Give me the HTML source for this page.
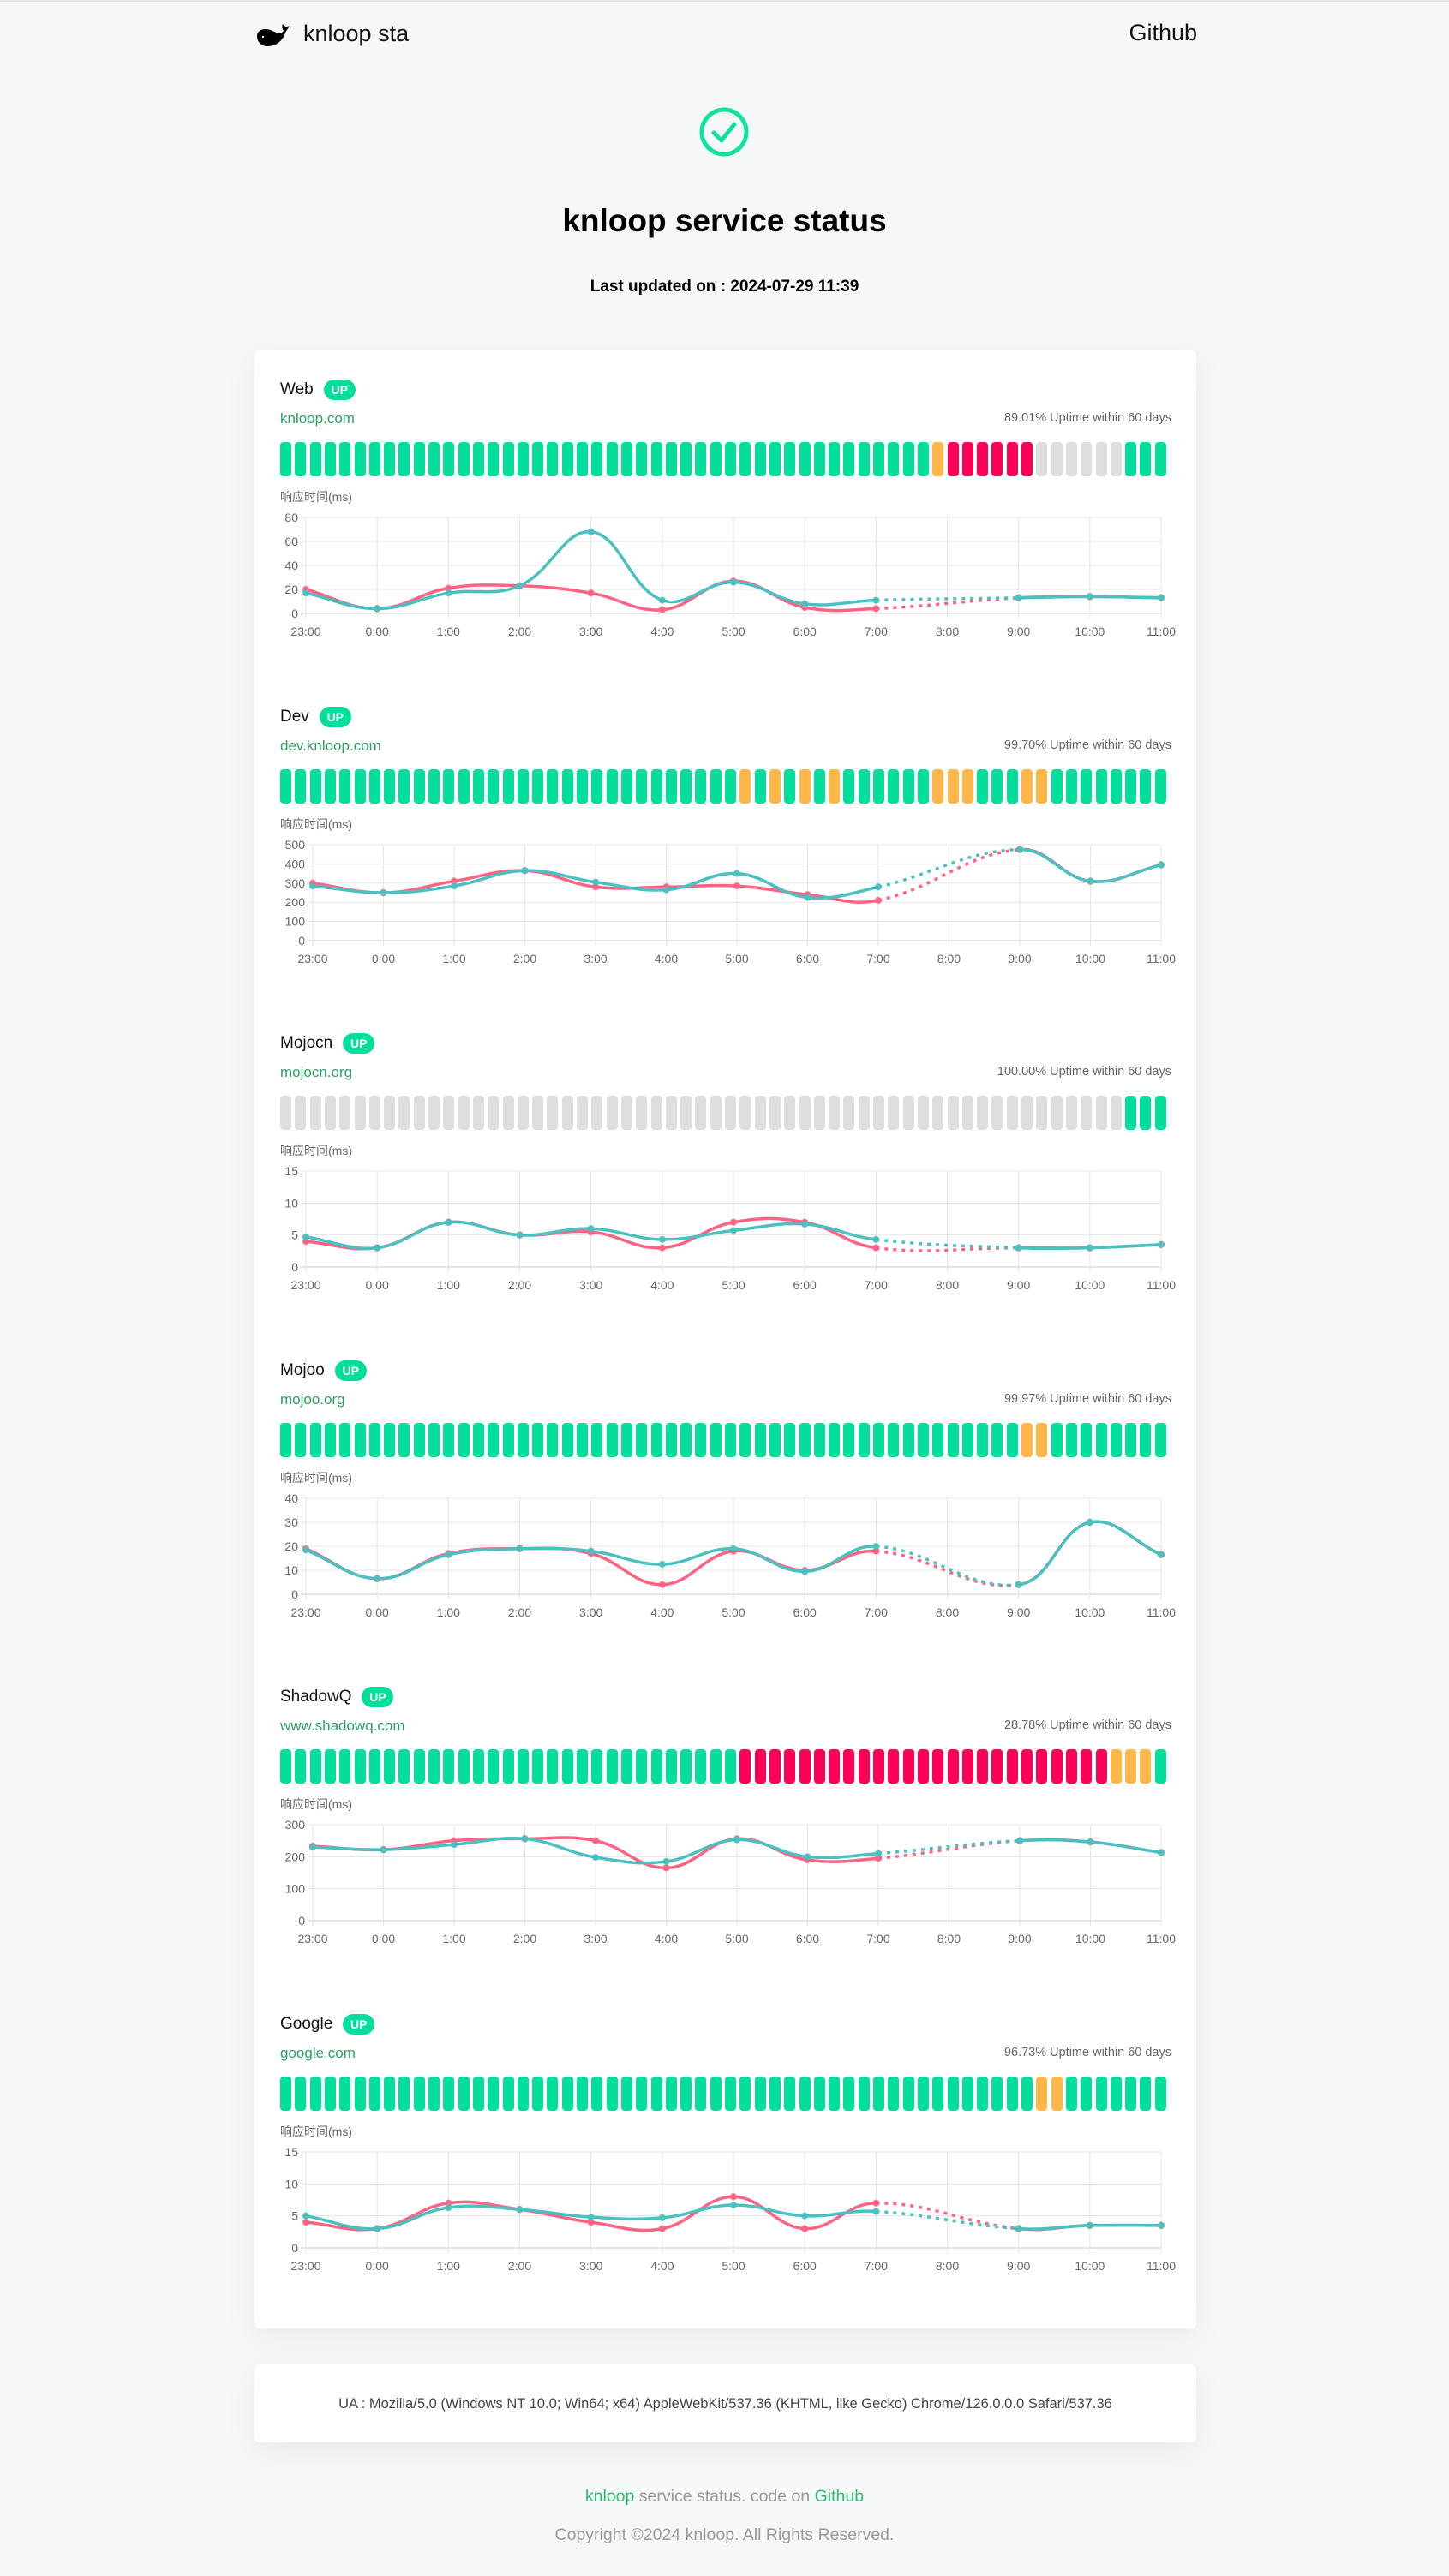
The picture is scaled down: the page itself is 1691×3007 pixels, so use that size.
<!DOCTYPE html>
<html><head><meta charset="utf-8">
<style>
body{margin:0;width:1691px;height:3007px;background:#f6f7f9;font-family:"Liberation Sans","Noto Sans CJK SC",sans-serif;position:relative;overflow:hidden;border-top:2px solid #e3e5e7;box-sizing:border-box}
.a{position:absolute;white-space:nowrap}
.card{position:absolute;background:#fff;border-radius:6px;box-shadow:0 10px 40px rgba(0,0,0,0.06)}
.bar{position:absolute;width:13px;height:40px;border-radius:4px}
</style></head>
<body>
<svg class="a" style="left:298px;top:26px" width="42" height="28" viewBox="0 0 42 28"><path d="M2 14 C2 6 12 4 20 8 C26 11 30 12 33 8 C31 5 31 2 32 0 C34 3 36 4 40 2 C38 6 36 8 35 10 C32 20 24 26 14 26 C7 26 2 21 2 14Z" fill="#000"/><circle cx="9" cy="15" r="1.2" fill="#fff"/></svg>
<div class="a" style="left:354px;top:22px;font-size:27px;color:#111">knloop sta</div>
<div class="a" style="right:294px;top:21px;font-size:27px;color:#111;font-weight:500">Github</div>
<svg class="a" style="left:815px;top:122px" width="60" height="60"><circle cx="30" cy="30" r="26" fill="none" stroke="#0ee39e" stroke-width="5"/><path d="M18 31 L27 40 L42 21" fill="none" stroke="#0ee39e" stroke-width="5" stroke-linecap="round" stroke-linejoin="round"/></svg>
<div class="a" style="left:0;width:1691px;text-align:center;top:235px;font-size:37px;font-weight:bold;color:#000">knloop service status</div>
<div class="a" style="left:0;width:1691px;text-align:center;top:322px;font-size:19px;font-weight:bold;color:#000">Last updated on : 2024-07-29 11:39</div>
<div class="card" style="left:297px;top:406px;width:1099px;height:2310px"></div>
<div class="card" style="left:297px;top:2758px;width:1099px;height:91px"></div>
<div class="a" style="left:297px;width:1099px;text-align:center;top:2795px;font-size:16.5px;color:#444">UA : Mozilla/5.0 (Windows NT 10.0; Win64; x64) AppleWebKit/537.36 (KHTML, like Gecko) Chrome/126.0.0.0 Safari/537.36</div>
<div class="a" style="left:0;width:1691px;text-align:center;top:2901px;font-size:19.5px;color:#999"><span style="color:#2ebd6e">knloop</span> service status. code on <span style="color:#2ebd6e">Github</span></div>
<div class="a" style="left:0;width:1691px;text-align:center;top:2946px;font-size:19.5px;color:#999">Copyright ©2024 knloop. All Rights Reserved.</div>
<div id="root"></div>
<script>
const labels=["23:00","0:00","1:00","2:00","3:00","4:00","5:00","6:00","7:00","8:00","9:00","10:00","11:00"];
const names=["Web","Dev","Mojocn","Mojoo","ShadowQ","Google"];
const urls=["knloop.com","dev.knloop.com","mojocn.org","mojoo.org","www.shadowq.com","google.com"];
const uptimes=["89.01%","99.70%","100.00%","99.97%","28.78%","96.73%"];
const yMax=[80,500,15,40,300,15];
const yStep=[20,100,5,10,100,5];
const redSeries=[
[20,4,21,23,17,3,27,5,4,null,13,14,13],
[300,250,310,365,280,280,285,240,210,null,475,310,395],
[4,3,7,5,5.5,3,7,7,3,null,3,3,3.5],
[19,6.5,17,19,17,4,18,10,18,null,4,30,16.5],
[233,222,250,256,250,165,256,190,195,null,250,246,213],
[4,3,7,6,4,3,8,3,7,null,3,3.5,3.5]];
const tealSeries=[
[17,4,17,23,68,11,26,8,11,null,13,14,13],
[285,250,285,365,305,265,350,225,280,null,475,310,395],
[4.7,3,7,5,6,4.3,5.7,6.7,4.3,null,3,3,3.5],
[18.5,6.5,16.5,19,18,12.5,19,9.5,20,null,4,30,16.5],
[230,222,238,256,198,185,253,200,210,null,250,246,213],
[5,3,6.3,6,4.8,4.7,6.7,5,5.7,null,3,3.5,3.5]];
// bar statuses: g=up, o=degraded, r=down, n=no data
const barStatus=[
"g".repeat(44)+"o"+"r".repeat(6)+"n".repeat(6)+"ggg",
(()=>{let a="g".repeat(60).split("");[31,33,35,37,44,45,46,50,51].forEach(i=>a[i]="o");return a.join("")})(),
"n".repeat(57)+"ggg",
"g".repeat(50)+"oo"+"g".repeat(8),
"g".repeat(31)+"r".repeat(25)+"ooo"+"g",
"g".repeat(51)+"oo"+"g".repeat(7)];
const colors={g:"#03de9c",o:"#ffb74a",r:"#ff0059",n:"#dedede"};
const root=document.getElementById('root');
function mk(tag,cls,style,txt){const e=document.createElement(tag);if(cls)e.className=cls;e.setAttribute('style',style);if(txt!==undefined)e.textContent=txt;root.appendChild(e);return e;}
const NS="http://www.w3.org/2000/svg";
function sv(p,tag,at){const e=document.createElementNS(NS,tag);for(const k in at)e.setAttribute(k,at[k]);p.appendChild(e);return e;}
function spline(pts){const t=0.4,cps=[];for(let i=0;i<pts.length;i++){const p=pts[Math.max(0,i-1)],c=pts[i],n=pts[Math.min(pts.length-1,i+1)];const d01=Math.hypot(c.x-p.x,c.y-p.y),d12=Math.hypot(n.x-c.x,n.y-c.y);let fa=d01/(d01+d12)||0,fb=d12/(d01+d12)||0;fa*=t;fb*=t;cps.push({px:c.x-fa*(n.x-p.x),py:c.y-fa*(n.y-p.y),nx:c.x+fb*(n.x-p.x),ny:c.y+fb*(n.y-p.y)});}return cps;}
names.forEach((nm,s)=>{
  const T=454+381.5*s;
  const row=mk('div','a',`left:327px;top:${T-13}px;display:flex;align-items:center;gap:12px`);
  
  
  const t1=document.createElement('span');
  t1.textContent=nm;
  t1.setAttribute('style','font-size:19px;color:#111;font-weight:500');
  
  
  row.appendChild(t1);
  const b=document.createElement('span');
  b.textContent='UP';
  b.setAttribute('style','display:inline-block;width:37px;height:24px;border-radius:12px;background:#03de9c;color:#fff;font-size:14px;font-weight:bold;text-align:center;line-height:24px');
  
  
  row.appendChild(b);
  const u=mk('div','a',`left:327px;top:${T+23}px;font-size:17px;color:#2ea061`,urls[s]);
  
  
  const up=mk('div','a',`right:324px;top:${T+24}px;font-size:14.5px;color:#666`,uptimes[s]+' Uptime within 60 days');
  
  
  for(let i=0;i<60;i++){
    const bb=mk('div','bar',`left:${327+i*17.3}px;top:${T+60}px;background:${colors[barStatus[s][i]]}`);
    
    
  }
  const yl=mk('div','a',`left:327px;top:${T+114}px;font-size:14px;color:#666`,'响应时间(ms)');
  
  
  const svg=document.createElementNS(NS,'svg');
  svg.setAttribute('class','a');
  svg.setAttribute('style',`left:0;top:${T+130}px`);
  svg.setAttribute('width',1691);svg.setAttribute('height',160);
  
  
  root.appendChild(svg);
  const L=(yMax[s]>=100?365:357),R=1355,top=18,bot=130;
  const X=i=>L+(R-L)*i/(labels.length-1);
  const Y=v=>bot-(bot-top)*v/yMax[s];
  for(let v=0;v<=yMax[s];v+=yStep[s]){
    const g=sv(svg,'line',{x1:L-6,x2:R,y1:Y(v),y2:Y(v),stroke:v===0?'#ccc':'#e5e5e5','stroke-width':1});
    
    
    const tx=sv(svg,'text',{x:L-9,y:Y(v)+5,'text-anchor':'end','font-size':14,fill:'#666','font-family':'Liberation Sans, sans-serif'});
    tx.textContent=v;
    
    
  }
  labels.forEach((lb,i)=>{
    const g=sv(svg,'line',{x1:X(i),x2:X(i),y1:top,y2:bot+6,stroke:'#e5e5e5','stroke-width':1});
    
    
    const tx=sv(svg,'text',{x:X(i),y:bot+26,'text-anchor':'middle','font-size':14,fill:'#666','font-family':'Liberation Sans, sans-serif'});
    tx.textContent=lb;
    
    
  });
  [[redSeries[s],'#ff6384','red-series'],[tealSeries[s],'#4bc0c0','teal-series']].forEach(([data,col,nmS])=>{
    const pts=[];data.forEach((v,i)=>{if(v!==null)pts.push({x:X(i),y:Y(v),i});});
    const cps=spline(pts);
    let solid='',dash='';
    for(let k=0;k<pts.length-1;k++){
      const seg=`M${pts[k].x},${pts[k].y} C${cps[k].nx},${cps[k].ny} ${cps[k+1].px},${cps[k+1].py} ${pts[k+1].x},${pts[k+1].y} `;
      if(pts[k+1].i-pts[k].i>1)dash+=seg;else solid+=seg;
    }
    const p1=sv(svg,'path',{d:solid,fill:'none',stroke:col,'stroke-width':3.5});
    
    
    const p2=sv(svg,'path',{d:dash,fill:'none',stroke:col,'stroke-width':3.5,'stroke-dasharray':'4 6'});
    
    
    pts.forEach(p=>{
      const c=sv(svg,'circle',{cx:p.x,cy:p.y,r:3.5,fill:col,stroke:col,'stroke-opacity':0.6,'stroke-width':1.5});
      
      
    });
  });
});
</script>
</body></html>
